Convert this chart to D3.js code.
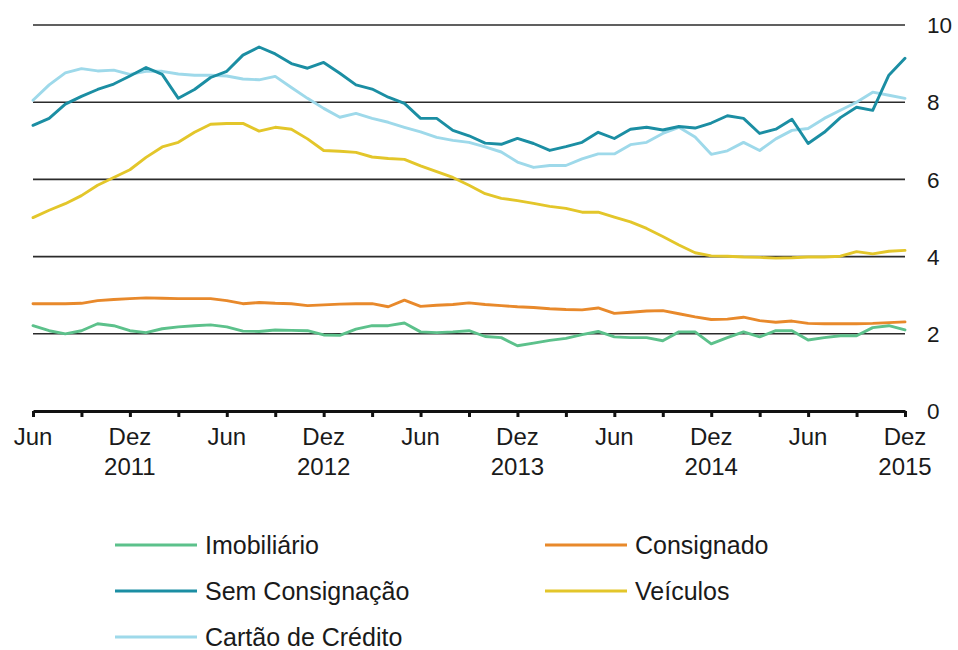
<!DOCTYPE html>
<html>
<head>
<meta charset="utf-8">
<script src="https://cdn.jsdelivr.net/npm/d3@7"></script>
<style>
  html, body { margin: 0; padding: 0; background: #fff; }
  svg { display: block; }
  text { font-family: "Liberation Sans", Arial, sans-serif; fill: #1a1a1a; }
</style>
</head>
<body>
<svg id="chart" width="958" height="650"></svg>
<script>
// Months: Jun 2011 (index 0) .. Dez 2015 (index 54)
const monthCount = 55;
const yTicks = [0, 2, 4, 6, 8, 10];
const xLabels = [
  { i: 0,  l1: "Jun", l2: "" },
  { i: 6,  l1: "Dez", l2: "2011" },
  { i: 12, l1: "Jun", l2: "" },
  { i: 18, l1: "Dez", l2: "2012" },
  { i: 24, l1: "Jun", l2: "" },
  { i: 30, l1: "Dez", l2: "2013" },
  { i: 36, l1: "Jun", l2: "" },
  { i: 42, l1: "Dez", l2: "2014" },
  { i: 48, l1: "Jun", l2: "" },
  { i: 54, l1: "Dez", l2: "2015" }
];

const imobiliario = [2.21,2.08,2.00,2.08,2.26,2.21,2.08,2.03,2.13,2.18,2.21,2.23,2.18,2.07,2.06,2.10,2.09,2.08,1.97,1.96,2.12,2.21,2.21,2.28,2.05,2.03,2.05,2.08,1.93,1.90,1.69,1.76,1.83,1.88,1.98,2.06,1.92,1.90,1.90,1.82,2.05,2.05,1.74,1.90,2.05,1.92,2.08,2.08,1.84,1.90,1.95,1.95,2.16,2.21,2.10];
const consignado = [2.78,2.78,2.78,2.79,2.86,2.89,2.91,2.93,2.92,2.91,2.91,2.91,2.86,2.78,2.81,2.79,2.78,2.73,2.75,2.77,2.78,2.78,2.70,2.87,2.71,2.74,2.76,2.80,2.76,2.73,2.70,2.68,2.65,2.63,2.62,2.67,2.53,2.56,2.59,2.60,2.52,2.44,2.37,2.38,2.43,2.34,2.30,2.33,2.27,2.26,2.26,2.26,2.27,2.29,2.31];
const veiculos = [5.01,5.20,5.37,5.58,5.85,6.05,6.25,6.57,6.84,6.96,7.22,7.43,7.45,7.45,7.25,7.35,7.30,7.05,6.75,6.73,6.70,6.58,6.54,6.52,6.35,6.20,6.05,5.85,5.63,5.51,5.45,5.38,5.30,5.25,5.15,5.15,5.02,4.90,4.73,4.52,4.30,4.10,4.02,4.01,3.99,3.98,3.96,3.97,3.99,3.99,4.01,4.13,4.07,4.14,4.16];
const cartao = [8.05,8.45,8.76,8.87,8.81,8.83,8.72,8.80,8.80,8.73,8.70,8.70,8.68,8.60,8.58,8.67,8.38,8.10,7.84,7.61,7.71,7.58,7.48,7.35,7.23,7.09,7.01,6.96,6.84,6.71,6.45,6.31,6.36,6.36,6.53,6.66,6.66,6.90,6.96,7.19,7.35,7.10,6.65,6.74,6.96,6.75,7.05,7.27,7.32,7.58,7.79,8.00,8.26,8.18,8.10];
const semConsignacao = [7.40,7.58,7.95,8.15,8.33,8.47,8.68,8.90,8.72,8.10,8.33,8.64,8.80,9.22,9.43,9.25,9.00,8.88,9.03,8.75,8.45,8.34,8.13,7.97,7.58,7.58,7.27,7.13,6.94,6.91,7.06,6.93,6.75,6.85,6.96,7.22,7.06,7.30,7.35,7.28,7.37,7.33,7.46,7.65,7.58,7.19,7.30,7.56,6.93,7.22,7.60,7.87,7.79,8.70,9.14];

const seriesNames = ["Imobiliário", "Consignado", "Sem Consignação", "Veículos", "Cartão de Crédito"];
const seriesColors = ["#5cc18b", "#e8892b", "#1b8ea3", "#e3c62a", "#9ed9ea"];

const series = [
  { name: seriesNames[0], color: seriesColors[0], values: imobiliario },
  { name: seriesNames[1], color: seriesColors[1], values: consignado },
  { name: seriesNames[3], color: seriesColors[3], values: veiculos },
  { name: seriesNames[4], color: seriesColors[4], values: cartao },
  { name: seriesNames[2], color: seriesColors[2], values: semConsignacao }
];

const svg = d3.select("#chart");
const x = d3.scaleLinear().domain([0, monthCount - 1]).range([33, 905]);
const y = d3.scaleLinear().domain([0, 10]).range([411, 25]);

// gridlines
svg.append("g").selectAll("line").data(yTicks.filter(d => d > 0)).join("line")
  .attr("x1", x(0)).attr("x2", x(monthCount - 1))
  .attr("y1", d => y(d)).attr("y2", d => y(d))
  .attr("stroke", "#2b2b2b").attr("stroke-width", 1.6);

// y labels (right)
svg.append("g").selectAll("text").data(yTicks).join("text")
  .attr("x", 927).attr("y", d => y(d)).attr("dy", "0.36em")
  .attr("font-size", 22.5).text(d => d);

// lines
const line = d3.line().x((d, i) => x(i)).y(d => y(d)).curve(d3.curveLinear);
svg.append("g").selectAll("path").data(series).join("path")
  .attr("d", d => line(d.values))
  .attr("fill", "none").attr("stroke", d => d.color)
  .attr("stroke-width", 2.9).attr("stroke-linejoin", "round").attr("stroke-linecap", "round");

// x axis
const xAxis = d3.axisBottom(x)
  .tickValues(d3.range(0, monthCount, 3))
  .tickSize(6).tickSizeOuter(0).tickFormat("");
const ax = svg.append("g").attr("transform", `translate(0,${y(0)})`).call(xAxis);
ax.select(".domain").attr("stroke", "#111").attr("stroke-width", 3);
ax.selectAll(".tick line").attr("stroke", "#111").attr("stroke-width", 3);

const lab = svg.append("g").selectAll("g").data(xLabels).join("g")
  .attr("transform", d => `translate(${x(d.i)},0)`);
lab.append("text").attr("y", 445).attr("text-anchor", "middle").attr("font-size", 24).text(d => d.l1);
lab.append("text").attr("y", 475).attr("text-anchor", "middle").attr("font-size", 24).text(d => d.l2);

// legend
const legendItems = [
  { name: seriesNames[0], color: seriesColors[0], col: 0, row: 0 },
  { name: seriesNames[1], color: seriesColors[1], col: 1, row: 0 },
  { name: seriesNames[2], color: seriesColors[2], col: 0, row: 1 },
  { name: seriesNames[3], color: seriesColors[3], col: 1, row: 1 },
  { name: seriesNames[4], color: seriesColors[4], col: 0, row: 2 }
];
const lg = svg.append("g").selectAll("g").data(legendItems).join("g")
  .attr("transform", d => `translate(${d.col ? 545 : 115},${545 + d.row * 46})`);
lg.append("line").attr("x1", 0).attr("x2", 82).attr("y1", 0).attr("y2", 0)
  .attr("stroke", d => d.color).attr("stroke-width", 3);
lg.append("text").attr("x", 90).attr("y", 0).attr("dy", "0.36em").attr("font-size", 25).text(d => d.name);
</script>
</body>
</html>
